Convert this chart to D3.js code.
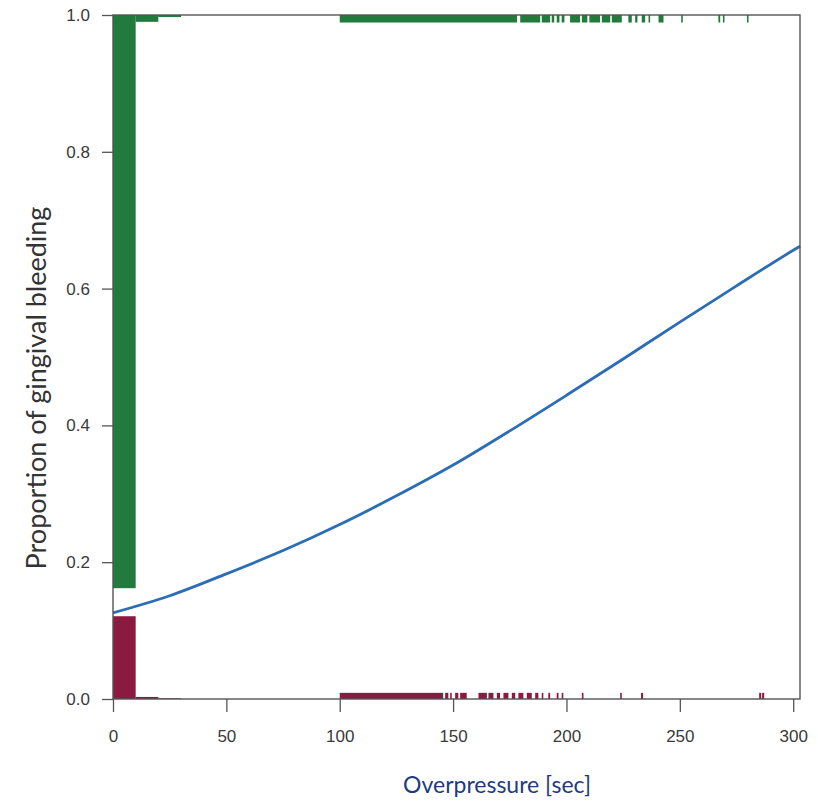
<html>
<head>
<meta charset="utf-8">
<script src="https://d3js.org/d3.v7.min.js"></script>
<style>
body { margin: 0; background: #fff; }
.tick line { stroke: #555; stroke-width: 1.3px; }
</style>
</head>
<body>
<div id="chart"></div>
<script>

// fitted curve
var curveX = [0, 25, 50, 75, 100, 125, 150, 175, 200, 225, 250, 275, 300, 303];
var curveY = [0.126, 0.151, 0.183, 0.217, 0.255, 0.297, 0.342, 0.392, 0.444, 0.497, 0.551, 0.604, 0.656, 0.662];

// bleeding = 1 : bars hanging from the top
var bleedBins = [[0, 10, 0.838], [10, 20, 0.010], [20, 30, 0.003]];
var bleedRug = [[100, 178.2], [179.6, 188.4], [189.1, 192.8], [193.5, 194.6], [195.7, 196.9],
  [197.9, 199.1], [201.6, 206], [206.8, 209.2], [210.1, 214.8], [215.6, 219.3], [220, 224.4],
  [227.3, 228.8], [230.3, 231.3], [233.2, 234.7], [236.2, 236.9], [240.6, 242.8],
  [250.6, 251.3], [267, 267.8], [269, 269.7], [279.6, 280.3]];
var bleedRugH = 0.011;

// bleeding = 0 : bars standing on the bottom
var noBleedBins = [[0, 10, 0.121], [10, 20, 0.003], [20, 30, 0.001]];
var noBleedRug = [[100, 145.6], [146.5, 147.9], [148.7, 149.4], [150.9, 152.3], [153.1, 156],
  [161.2, 164.9], [165.6, 167.8], [169.3, 170.7], [172.2, 174.4], [175.9, 177.4], [178.8, 181],
  [182.5, 184.7], [186.2, 187.6], [189.1, 189.8], [192, 192.8], [195.7, 196.5], [197.9, 198.6],
  [206.8, 207.5], [223.7, 224.4], [232.9, 233.8], [285, 285.9], [286.3, 287.2]];
var noBleedRugH = 0.009;

var xTicks = [0, 50, 100, 150, 200, 250, 300];
var yTicks = [0, 0.2, 0.4, 0.6, 0.8, 1.0];

var W = 818, H = 803;
var plotL = 113, plotR = 800, plotT = 15, plotB = 699;

var svg = d3.select("#chart").append("svg")
    .attr("width", W)
    .attr("height", H);

var x = d3.scaleLinear().domain([0, 303]).range([plotL, plotR]);
var y = d3.scaleLinear().domain([0, 1]).range([plotB, plotT]);

var green = "#227a3d", red = "#8a1a40";

// top bars
svg.append("g").selectAll("rect")
  .data(bleedBins.concat(bleedRug.map(function(d){ return [d[0], d[1], bleedRugH]; })))
  .enter().append("rect")
    .attr("x", function(d){ return x(d[0]); })
    .attr("width", function(d){ return Math.max(1, x(d[1]) - x(d[0])); })
    .attr("y", y(1))
    .attr("height", function(d){ return y(1 - d[2]) - y(1); })
    .style("fill", green);

// bottom bars
svg.append("g").selectAll("rect")
  .data(noBleedBins.concat(noBleedRug.map(function(d){ return [d[0], d[1], noBleedRugH]; })))
  .enter().append("rect")
    .attr("x", function(d){ return x(d[0]); })
    .attr("width", function(d){ return Math.max(1, x(d[1]) - x(d[0])); })
    .attr("y", function(d){ return y(d[2]); })
    .attr("height", function(d){ return y(0) - y(d[2]); })
    .style("fill", red);

// fitted line
var line = d3.line()
  .x(function(d){ return x(d[0]); })
  .y(function(d){ return y(d[1]); })
  .curve(d3.curveMonotoneX);

svg.append("path")
  .datum(curveX.map(function(v, i){ return [v, curveY[i]]; }))
  .attr("d", line)
  .attr("fill", "none")
  .attr("stroke", "#2c6db4")
  .attr("stroke-width", 2.8);

// frame
svg.append("rect")
  .attr("x", plotL)
  .attr("y", plotT)
  .attr("width", plotR - plotL)
  .attr("height", plotB - plotT)
  .attr("fill", "none")
  .attr("stroke", "#555")
  .attr("stroke-width", 1.4);

// axes
var yAxis = svg.append("g")
  .attr("transform", "translate(" + plotL + ",0)")
  .call(d3.axisLeft(y).tickValues(yTicks).tickFormat(d3.format(".1f")).tickSize(11).tickPadding(12));
yAxis.select(".domain").remove();

var xAxis = svg.append("g")
  .attr("transform", "translate(0," + plotB + ")")
  .call(d3.axisBottom(x).tickValues(xTicks).tickSize(13).tickPadding(18));
xAxis.select(".domain").remove();

svg.selectAll(".tick text")
  .style("font-family", "'Liberation Sans', Arial, sans-serif")
  .style("font-size", "17px")
  .style("fill", "#3a3a3a");

// titles
svg.append("text")
  .attr("transform", "translate(46,388) rotate(-90)")
  .attr("text-anchor", "middle")
  .style("font-family", "Lato, 'Open Sans', sans-serif")
  .style("font-size", "27px")
  .style("fill", "#333")
  .text("Proportion of gingival bleeding");

svg.append("text")
  .attr("x", 497)
  .attr("y", 793)
  .attr("text-anchor", "middle")
  .style("font-family", "Lato, 'Open Sans', sans-serif")
  .style("font-size", "23px")
  .style("fill", "#1f3b7d")
  .text("Overpressure [sec]");

</script>
</body>
</html>
